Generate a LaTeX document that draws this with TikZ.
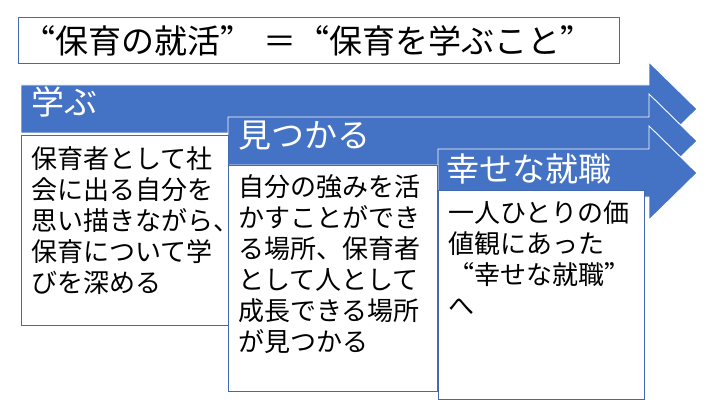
\documentclass[tikz,border=0pt]{standalone}
\usepackage{fontspec}
\setmainfont{Noto Sans CJK JP}[CharacterWidth=Full]
\usepackage{xcolor}
\usetikzlibrary{positioning}
\definecolor{spBlue}{RGB}{68, 114, 196}
\definecolor{spFrame}{RGB}{66, 106, 176}
\tikzset{
    base/.style={
        inner sep=0pt,
        align=left
    },
    band/.style={
        fill=spBlue,
        draw=white,
        line width=0.9pt
    },
    panel/.style={
        draw=spFrame,
        fill=white,
        line width=0.9pt
    },
    headline/.style={
        base,
        font=\fontsize{33}{36}\selectfont
    },
    heading/.style={
        base,
        anchor=west,
        text=white,
        font=\fontsize{33}{36}\selectfont
    },
    body/.style={
        base,
        anchor=north west,
        font=\fontsize{26}{31}\selectfont
    }
}

\begin{document}
\begin{tikzpicture}[x=1pt, y=-1pt]
  \useasboundingbox (0,0) rectangle (716,404);

  % Title
  \draw[panel] (18,17) rectangle (619,63);
  \node[headline, anchor=west] (title) at (22,41) {“保育の就活”\hspace{10pt}＝“保育を学ぶこと”};

  % Arrows
  \foreach \l/\c in {21/109, 228/141, 438/173} {
    \draw[band] (\l,\c-24) -- (649,\c-24) -- (649,\c-47) -- (697,\c)
      -- (649,\c+47) -- (649,\c+24) -- (\l,\c+24) -- cycle;
  }

  % Boxes
  \draw[panel] (21,135) rectangle (228,325);
  \draw[panel] (228,165) rectangle (437,391);
  \draw[panel] (438,190) rectangle (644,399);

  % Headings
  \node[heading] (learn) at (31,102) {学ぶ};
  \node[heading] (find) at (238,136) {見つかる};
  \node[heading] (job) at (446,169) {幸せな就職};

  % Texts
  \node[body] (learntext) at (31,146) {保育者として社\\会に出る自分を\\思い描きながら、\\保育について学\\びを深める};
  \node[body] (findtext) at (238,174) {自分の強みを活\\かすことができ\\る場所、保育者\\として人として\\成長できる場所\\が見つかる};
  \node[body] (jobtext) at (448,201) {一人ひとりの価\\値観にあった\\“幸せな就職”\\へ};

\end{tikzpicture}
\end{document}
